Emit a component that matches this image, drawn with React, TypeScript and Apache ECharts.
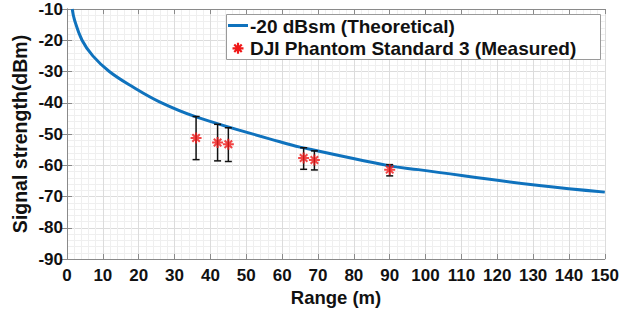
import React, { useEffect, useRef } from 'react';
import * as echarts from 'echarts';

// Theoretical curve (-20 dBsm)
const theoRange = [1.45, 2.1, 4.2, 7.2, 11.8, 18.3, 25.8, 36, 59.4, 65, 90, 98, 131.7, 150];
const theoSignal = [-10, -13.5, -20, -25, -30, -34.9, -39.7, -44.5, -52.5, -54.2, -60.2, -61.4, -66.5, -68.6];

// Measured DJI Phantom Standard 3
const measRange = [36, 42, 45, 66, 69, 90];
const measSignal = [-51.3, -52.7, -53.3, -57.7, -58.3, -61.4];
const measHigh = [-44.4, -46.9, -48.0, -54.4, -55.4, -59.8];
const measLow = [-58.2, -58.6, -58.8, -61.3, -61.5, -63.4];

const xTicks = { min: 0, max: 150, interval: 10 };
const yTicks = { min: -90, max: -10, interval: 10 };

const seriesNames = ['-20 dBsm (Theoretical)', 'DJI Phantom Standard 3 (Measured)'];
const xTitle = 'Range (m)';
const yTitle = 'Signal strength(dBm)';

const FONT = '"Liberation Sans", Arial, Helvetica, sans-serif';
const BLUE = '#0f72bd';
const RED = '#f01818';
const AXIS = '#8a8a8a';
const starD = 'M0,5L10,5M5,0L5,10M1.6,1.6L8.4,8.4M8.4,1.6L1.6,8.4';

export default function App() {
  const ref = useRef<HTMLDivElement>(null);
  useEffect(() => {
    document.body.style.margin = '0';
    const el = ref.current!;
    echarts.graphic.registerShape('starMark', echarts.graphic.extendPath(starD, {}) as any);
    const chart = echarts.init(el, null, { renderer: 'svg' });
    const grid = { left: 67, top: 9, right: 16, bottom: 61 };
    const labelStyle = { color: '#111', fontSize: 17, fontWeight: 'bold' as const, fontFamily: FONT };
    const baseAxisX = {
      type: 'value' as const,
      min: xTicks.min,
      max: xTicks.max,
      interval: xTicks.interval,
      axisLine: { show: true, lineStyle: { color: AXIS, width: 1 } },
      axisTick: { show: true, inside: true, length: 5, lineStyle: { color: AXIS } },
    };
    const baseAxisY = {
      type: 'value' as const,
      min: yTicks.min,
      max: yTicks.max,
      interval: yTicks.interval,
      axisLine: { show: true, lineStyle: { color: AXIS, width: 1 } },
      axisTick: { show: true, inside: true, length: 5, lineStyle: { color: AXIS } },
    };
    const legendFont = `bold 19px ${FONT}`;
    const option: any = {
      animation: false,
      backgroundColor: '#fff',
      grid,
      xAxis: [
        {
          ...baseAxisX,
          position: 'bottom',
          axisLabel: { ...labelStyle, margin: 8 },
          splitLine: { show: true, lineStyle: { color: '#dcdcdc', width: 1 } },
          minorTick: { show: false, splitNumber: 5 },
          minorSplitLine: { show: true, lineStyle: { color: '#efefef', width: 1 } },
        },
        {
          ...baseAxisX,
          position: 'top',
          axisLabel: { show: false },
          splitLine: { show: false },
        },
      ],
      yAxis: [
        {
          ...baseAxisY,
          position: 'left',
          axisLabel: { ...labelStyle, margin: 4 },
          splitLine: { show: true, lineStyle: { color: '#dcdcdc', width: 1 } },
          minorTick: { show: false, splitNumber: 5 },
          minorSplitLine: { show: true, lineStyle: { color: '#efefef', width: 1 } },
        },
        {
          ...baseAxisY,
          position: 'right',
          axisLabel: { show: false },
          splitLine: { show: false },
        },
      ],
      series: [
        {
          name: seriesNames[0],
          type: 'line',
          data: theoRange.map((r, i) => [r, theoSignal[i]]),
          smooth: 0.4,
          symbol: 'none',
          lineStyle: { color: BLUE, width: 3 },
          clip: true,
          z: 2,
        },
        {
          name: 'errorbars',
          type: 'custom',
          data: measRange.map((r, i) => [r, measLow[i], measHigh[i]]),
          encode: { x: 0, y: [1, 2] },
          renderItem: (params: any, api: any) => {
            const x = api.value(0);
            const lo = api.coord([x, api.value(1)]);
            const hi = api.coord([x, api.value(2)]);
            const hw = 3.5;
            const st = { stroke: '#111', lineWidth: 1.5 };
            return {
              type: 'group',
              children: [
                { type: 'line', shape: { x1: lo[0], y1: lo[1], x2: hi[0], y2: hi[1] }, style: st },
                { type: 'line', shape: { x1: lo[0] - hw, y1: lo[1], x2: lo[0] + hw, y2: lo[1] }, style: st },
                { type: 'line', shape: { x1: hi[0] - hw, y1: hi[1], x2: hi[0] + hw, y2: hi[1] }, style: st },
              ],
            };
          },
          z: 3,
        },
        {
          name: seriesNames[1],
          type: 'scatter',
          data: measRange.map((r, i) => [r, measSignal[i]]),
          symbol: 'path://' + starD,
          symbolSize: 11,
          itemStyle: { color: RED, borderColor: RED, borderWidth: 2 },
          z: 4,
        },
      ],
      graphic: [
        {
          type: 'rect',
          z: 100,
          shape: { x: 226.5, y: 14.5, width: 374, height: 45 },
          style: { fill: '#fff', stroke: '#9a9a9a', lineWidth: 1 },
        },
        {
          type: 'line',
          z: 101,
          shape: { x1: 228, y1: 25.5, x2: 248, y2: 25.5 },
          style: { stroke: BLUE, lineWidth: 3 },
        },
        {
          type: 'starMark',
          z: 101,
          x: 232.5,
          y: 42.8,
          scaleX: 1.1,
          scaleY: 1.1,
          style: { stroke: RED, lineWidth: 2, fill: 'none' },
        },
        {
          type: 'text',
          z: 101,
          x: 250,
          y: 26.5,
          style: {
            text: seriesNames[0],
            fill: '#111',
            font: legendFont,
            textAlign: 'left',
            textVerticalAlign: 'middle',
            verticalAlign: 'middle',
          },
        },
        {
          type: 'text',
          z: 101,
          x: 250,
          y: 48.5,
          style: {
            text: seriesNames[1],
            fill: '#111',
            font: legendFont,
            textAlign: 'left',
            textVerticalAlign: 'middle',
            verticalAlign: 'middle',
          },
        },
        {
          type: 'text',
          z: 101,
          x: 336,
          y: 297,
          style: {
            text: xTitle,
            fill: '#111',
            font: `bold 18.5px ${FONT}`,
            textAlign: 'center',
            align: 'center',
            textVerticalAlign: 'middle',
            verticalAlign: 'middle',
          },
        },
        {
          type: 'text',
          z: 101,
          x: 20,
          y: 134,
          rotation: Math.PI / 2,
          style: {
            text: yTitle,
            fill: '#111',
            font: `bold 19.5px ${FONT}`,
            textAlign: 'center',
            align: 'center',
            textVerticalAlign: 'middle',
            verticalAlign: 'middle',
          },
        },
      ],
    };
    chart.setOption(option);
    return () => chart.dispose();
  }, []);
  return <div ref={ref} style={{ position: 'fixed', left: 0, top: 0, width: 622, height: 320 }} />;
}
